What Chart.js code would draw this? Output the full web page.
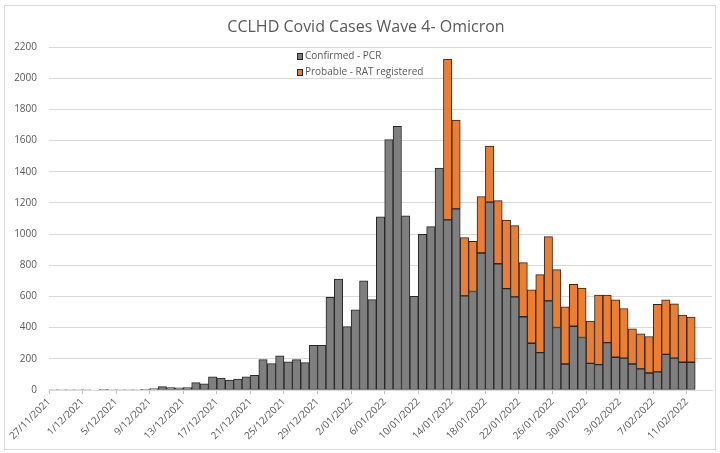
<!DOCTYPE html>
<html>
<head>
<meta charset="utf-8">
<script src="https://cdn.jsdelivr.net/npm/chart.js@4.4.1/dist/chart.umd.min.js"></script>
<style>
  html, body { margin: 0; padding: 0; background: #fff; }
  #wrap { width: 720px; height: 453px; position: relative; }
</style>
</head>
<body>
<div id="wrap"><canvas id="casesChart" width="720" height="453"></canvas></div>
<script>
// one category per day, 27/11/2021 .. 13/02/2022
const dates = [
  '27/11/2021','28/11/2021','29/11/2021','30/11/2021',
  '1/12/2021','2/12/2021','3/12/2021','4/12/2021','5/12/2021','6/12/2021','7/12/2021','8/12/2021',
  '9/12/2021','10/12/2021','11/12/2021','12/12/2021','13/12/2021','14/12/2021','15/12/2021','16/12/2021',
  '17/12/2021','18/12/2021','19/12/2021','20/12/2021','21/12/2021','22/12/2021','23/12/2021','24/12/2021',
  '25/12/2021','26/12/2021','27/12/2021','28/12/2021','29/12/2021','30/12/2021','31/12/2021',
  '1/01/2022','2/01/2022','3/01/2022','4/01/2022','5/01/2022','6/01/2022','7/01/2022','8/01/2022',
  '9/01/2022','10/01/2022','11/01/2022','12/01/2022','13/01/2022','14/01/2022','15/01/2022','16/01/2022',
  '17/01/2022','18/01/2022','19/01/2022','20/01/2022','21/01/2022','22/01/2022','23/01/2022','24/01/2022',
  '25/01/2022','26/01/2022','27/01/2022','28/01/2022','29/01/2022','30/01/2022','31/01/2022',
  '1/02/2022','2/02/2022','3/02/2022','4/02/2022','5/02/2022','6/02/2022','7/02/2022','8/02/2022',
  '9/02/2022','10/02/2022','11/02/2022','12/02/2022','13/02/2022'
];

const confirmedPcr = [
  3, 3, 3, 3, 3, 0, 2, 3, 3, 3, 3, 4,
  9, 22, 15, 14, 15, 47, 40, 84, 76, 63, 70, 84,
  94, 195, 169, 219, 180, 195, 176, 287, 287, 594, 712, 407,
  514, 701, 580, 1110, 1606, 1691, 1117, 600, 999, 1048, 1423, 1091,
  1162, 604, 632, 879, 1205, 810, 650, 597, 470, 300, 240, 572,
  401, 167, 409, 337, 171, 163, 304, 210, 204, 167, 135, 109,
  116, 229, 204, 178, 178
];

const probableRat = [
  null, null, null, null, null, null, null, null, null, null, null, null,
  null, null, null, null, null, null, null, null, null, null, null, null,
  null, null, null, null, null, null, null, null, null, null, null, null,
  null, null, null, null, null, null, null, null, null, null, null, 1031,
  570, 373, 322, 362, 360, 405, 440, 457, 347, 343, 500, 412,
  371, 367, 268, 317, 271, 446, 305, 369, 319, 225, 225, 234,
  433, 350, 349, 302, 289
];

const seriesNames = ['Confirmed - PCR', 'Probable - RAT registered'];
const seriesColors = ['#7f7f7f', '#ed7d31'];
const chartTitle = 'CCLHD Covid Cases Wave 4- Omicron';

const textColor = '#595959';
const fontFam = '"Open Sans", sans-serif';

// frame, title and the in-plot legend (Excel style)
const excelBits = {
  id: 'excelBits',
  beforeDraw(chart) {
    const ctx = chart.ctx;
    ctx.save();
    ctx.fillStyle = '#fff';
    ctx.fillRect(0, 0, chart.width, chart.height);
    ctx.strokeStyle = '#d9d9d9';
    ctx.lineWidth = 1;
    ctx.strokeRect(4.5, 5.5, 711, 444);
    ctx.restore();
  },
  afterDraw(chart) {
    const ctx = chart.ctx;
    ctx.save();
    ctx.fillStyle = textColor;
    ctx.font = '16px ' + fontFam;
    ctx.textAlign = 'center';
    ctx.textBaseline = 'middle';
    ctx.fillText(chartTitle, 366, 27);

    ctx.font = '10px ' + fontFam;
    ctx.textAlign = 'left';
    seriesNames.forEach((name, i) => {
      const y = 53 + i * 16;
      ctx.fillStyle = seriesColors[i];
      ctx.fillRect(297, y, 6, 7);
      ctx.strokeStyle = '#262626';
      ctx.strokeRect(297.5, y + 0.5, 5, 6);
      ctx.fillStyle = textColor;
      ctx.fillText(name, 305, y + 3.5);
    });
    ctx.restore();
  }
};

new Chart('casesChart', {
  type: 'bar',
  data: {
    labels: dates,
    datasets: [
      {
        label: seriesNames[0],
        data: confirmedPcr,
        backgroundColor: seriesColors[0],
        borderColor: '#262626',
        borderWidth: 1,
        borderSkipped: false,
        barPercentage: 1,
        categoryPercentage: 1
      },
      {
        label: seriesNames[1],
        data: probableRat,
        backgroundColor: seriesColors[1],
        borderColor: '#262626',
        borderWidth: 1,
        borderSkipped: false,
        barPercentage: 1,
        categoryPercentage: 1
      }
    ]
  },
  options: {
    responsive: false,
    animation: false,
    devicePixelRatio: 1,
    layout: { padding: { top: 47, right: 8, left: 0, bottom: 0 } },
    plugins: {
      legend: { display: false },
      title: { display: false },
      tooltip: { enabled: false }
    },
    scales: {
      x: {
        stacked: true,
        offset: true,
        grid: {
          offset: true,
          drawOnChartArea: false,
          drawTicks: true,
          tickLength: 4,
          color: (c) => (c.index % 4 === 0 ? '#bfbfbf' : 'rgba(0,0,0,0)')
        },
        border: { display: true, color: '#d9d9d9' },
        ticks: {
          autoSkip: false,
          minRotation: 45,
          maxRotation: 45,
          labelOffset: -4.2,
          padding: 2,
          color: textColor,
          font: { family: fontFam, size: 10 },
          callback: function (v, i) {
            return i % 4 === 0 ? this.getLabelForValue(v) : '';
          }
        },
        afterFit: (s) => { s.height = 63; }
      },
      y: {
        stacked: true,
        min: 0,
        max: 2200,
        grid: { color: '#d9d9d9', drawTicks: false },
        border: { display: false },
        ticks: {
          stepSize: 200,
          padding: 12,
          color: textColor,
          font: { family: fontFam, size: 10 },
          callback: (v) => String(v)
        },
        afterFit: (s) => { s.width = 49; }
      }
    }
  },
  plugins: [excelBits]
});
</script>
</body>
</html>
